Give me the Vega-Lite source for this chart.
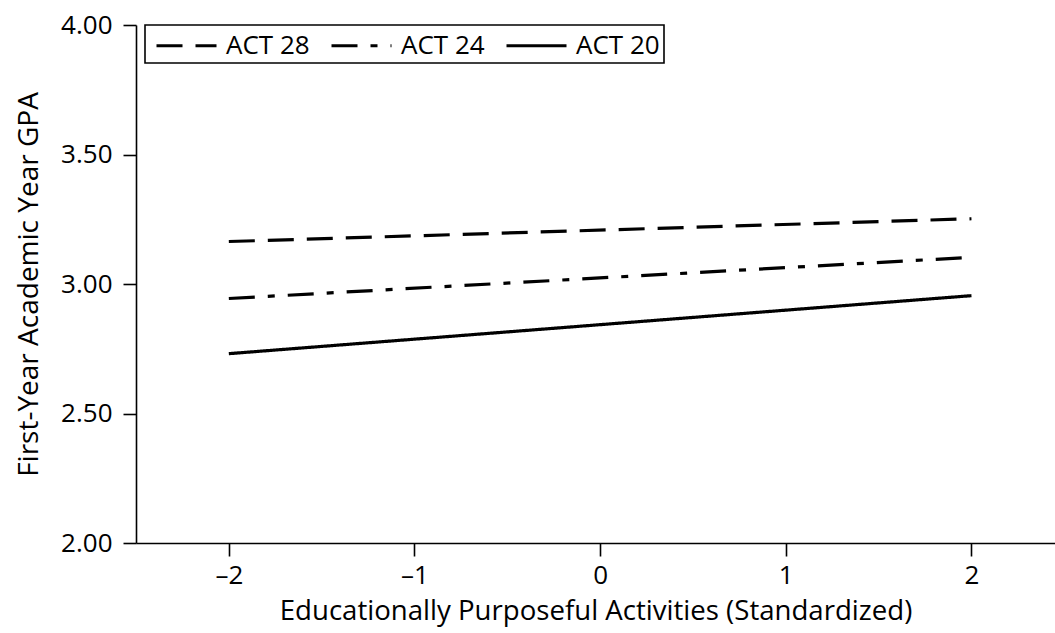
{
  "$schema": "https://vega.github.io/schema/vega-lite/v6.json",
  "width": 919,
  "height": 518,
  "autosize": {"type": "none"},
  "padding": {"left": 136, "top": 25, "right": 0, "bottom": 90},
  "background": "white",
  "config": {
    "view": {"stroke": null},
    "font": "Open Sans",
    "axis": {
      "grid": false,
      "domainColor": "black",
      "domainWidth": 1.6,
      "tickColor": "black",
      "tickWidth": 1.6,
      "tickSize": 13,
      "labelFont": "Open Sans",
      "labelFontSize": 26,
      "labelColor": "black",
      "titleFont": "Open Sans",
      "titleFontSize": 27.6,
      "titleFontWeight": "normal",
      "titleColor": "black"
    }
  },
  "data": {
    "values": [
      {"act": "ACT 28", "x": -2, "gpa": 3.164},
      {"act": "ACT 28", "x": 2, "gpa": 3.252},
      {"act": "ACT 24", "x": -2, "gpa": 2.944},
      {"act": "ACT 24", "x": 2, "gpa": 3.103},
      {"act": "ACT 20", "x": -2, "gpa": 2.731},
      {"act": "ACT 20", "x": 2, "gpa": 2.955}
    ]
  },
  "mark": {"type": "line", "color": "black", "strokeWidth": 3.2, "clip": true},
  "encoding": {
    "x": {
      "field": "x",
      "type": "quantitative",
      "scale": {"domain": [-2.5, 2.45], "nice": false, "zero": false},
      "axis": {
        "values": [-2, -1, 0, 1, 2],
        "labelExpr": "datum.value < 0 ? '–' + abs(datum.value) : '' + datum.value",
        "labelPadding": 6,
        "labelFlush": false,
        "title": "Educationally Purposeful Activities (Standardized)",
        "titlePadding": 9
      }
    },
    "y": {
      "field": "gpa",
      "type": "quantitative",
      "scale": {"domain": [2, 4], "nice": false, "zero": false},
      "axis": {
        "values": [2, 2.5, 3, 3.5, 4],
        "format": ".2f",
        "labelPadding": 11,
        "labelFlush": false,
        "title": "First-Year Academic Year GPA",
        "titleFontSize": 28,
        "titlePadding": 17
      }
    },
    "strokeDash": {
      "field": "act",
      "type": "nominal",
      "scale": {
        "domain": ["ACT 28", "ACT 24", "ACT 20"],
        "range": [[26, 13], [26, 13, 7, 13], [1, 0]]
      },
      "legend": {
        "title": null,
        "orient": "none",
        "legendX": 9,
        "legendY": 0,
        "direction": "horizontal",
        "strokeColor": "black",
        "padding": 4,
        "symbolType": "M-2,0H2",
        "symbolSize": 900,
        "symbolStrokeWidth": 3,
        "symbolStrokeColor": "black",
        "symbolFillColor": "transparent",
        "labelFont": "Open Sans",
        "labelFontSize": 26,
        "labelColor": "black",
        "labelOffset": 23,
        "columnPadding": 14,
        "symbolOffset": 21,
        "encode": {"legend": {"update": {"strokeWidth": {"value": 1.6}}}}
      }
    }
  }
}
